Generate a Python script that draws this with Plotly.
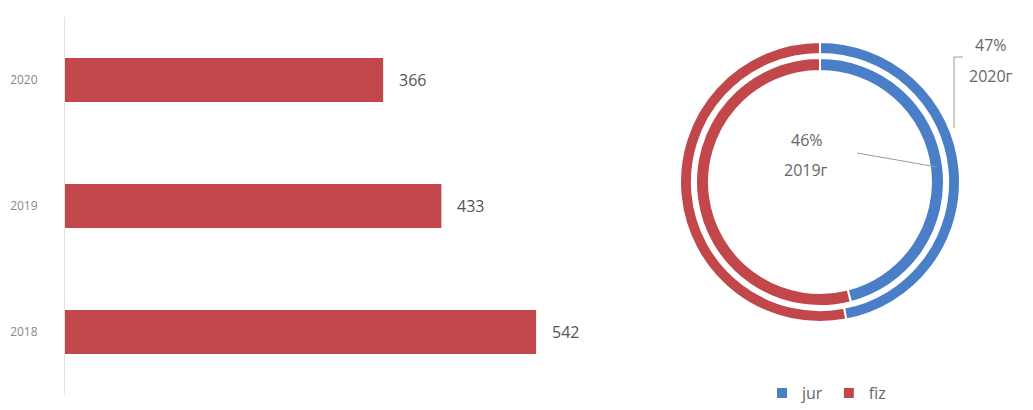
import plotly.graph_objects as go

W, H = 1033, 410

# ---- data ----
years = ["2018", "2019", "2020"]
counts = [542, 433, 366]

ring_labels = ["jur", "fiz"]
share_2020 = [47, 53]   # outer ring
share_2019 = [46, 54]   # inner ring

RED = "#C2474B"
BLUE = "#4A7FC7"
FONT = "Open Sans"

def px(x):
    return x / W

def py(y):
    return 1 - y / H

fig = go.Figure()

fig.add_trace(go.Bar(
    x=counts, y=years, orientation="h",
    marker=dict(color=RED, line=dict(width=0)),
    showlegend=False, hoverinfo="x+y",
))

# bar value labels (category index positions on the category axis)
for i, v in enumerate(counts):
    fig.add_annotation(x=v, y=i, xref="x", yref="y", text=str(v),
                       showarrow=False, xanchor="left", xshift=14,
                       font=dict(family=FONT, size=16, color="#555"))

# donut rings
cx, cy = 820, 182
r_out, r_in = 140, 124
fig.add_trace(go.Pie(
    labels=ring_labels, values=share_2020, sort=False, direction="clockwise",
    rotation=0, hole=0.915, textinfo="none",
    marker=dict(colors=[BLUE, RED], line=dict(color="white", width=2)),
    domain=dict(x=[px(cx - r_out), px(cx + r_out)], y=[py(cy + r_out), py(cy - r_out)]),
    showlegend=True,
))
fig.add_trace(go.Pie(
    labels=ring_labels, values=share_2019, sort=False, direction="clockwise",
    rotation=0, hole=0.895, textinfo="none",
    marker=dict(colors=[BLUE, RED], line=dict(color="white", width=2)),
    domain=dict(x=[px(cx - r_in), px(cx + r_in)], y=[py(cy + r_in), py(cy - r_in)]),
    showlegend=False,
))

# ring annotations
def note(x, y, t):
    fig.add_annotation(x=px(x), y=py(y), xref="paper", yref="paper", text=t,
                       showarrow=False, xanchor="center", yanchor="middle",
                       font=dict(family=FONT, size=16, color="#666"))

note(991, 45, f"{share_2020[0]}%")
note(991, 76, "2020г")
note(807, 140, f"{share_2019[0]}%")
note(806, 170, "2019г")

line_style = dict(color="#9a9a9a", width=1)
fig.add_shape(type="line", xref="paper", yref="paper",
              x0=px(954), y0=py(57), x1=px(963), y1=py(57), line=line_style)
fig.add_shape(type="line", xref="paper", yref="paper",
              x0=px(954), y0=py(57), x1=px(954), y1=py(128), line=line_style)
fig.add_shape(type="line", xref="paper", yref="paper",
              x0=px(857), y0=py(153), x1=px(937), y1=py(167), line=line_style)

fig.update_layout(
    width=W, height=H,
    margin=dict(l=0, r=0, t=0, b=0),
    paper_bgcolor="white", plot_bgcolor="white",
    font=dict(family=FONT, color="#666"),
    bargap=0.65,
    xaxis=dict(domain=[px(65), px(630)], range=[0, 650], visible=False),
    yaxis=dict(domain=[py(395), py(17)], type="category",
               categoryorder="array", categoryarray=years,
               range=[-0.5, 2.5], autorange=False,
               showline=True, linecolor="#e3e3e3", linewidth=1,
               showgrid=False, zeroline=False, ticks="",
               ticklabelstandoff=24,
               tickfont=dict(family=FONT, size=12, color="#888")),
    legend=dict(orientation="h", x=px(762), y=0, xanchor="left", yanchor="bottom",
                font=dict(family=FONT, size=16, color="#666"),
                itemwidth=30, tracegroupgap=0, bgcolor="rgba(0,0,0,0)"),
)

fig.write_html("out.html")
